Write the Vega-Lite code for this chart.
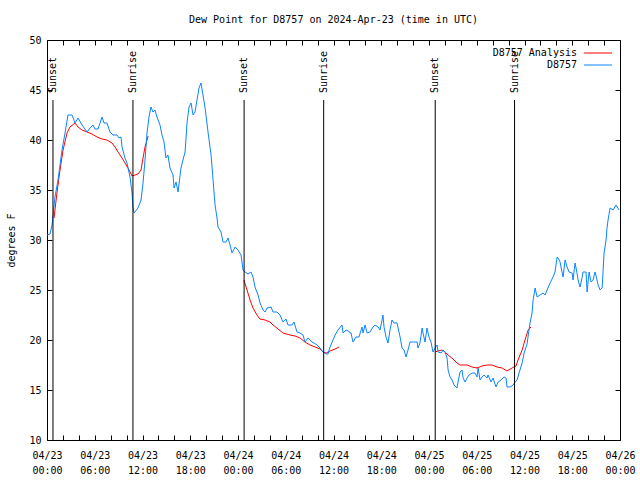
{
  "$schema": "https://vega.github.io/schema/vega-lite/v6.json",
  "autosize": {"type": "none"},
  "width": 573,
  "height": 400,
  "padding": {"left": 47, "top": 40, "right": 20, "bottom": 40},
  "background": "white",
  "title": {"text": "Dew Point for D8757 on 2024-Apr-23 (time in UTC)", "font": "DejaVu Sans Mono", "fontSize": 10, "fontWeight": "normal", "color": "black", "offset": 10},
  "config": {
    "view": {"stroke": "black", "strokeWidth": 1},
    "axis": {"domain": false, "grid": false, "labelFont": "DejaVu Sans Mono", "labelFontSize": 10, "labelColor": "black", "tickColor": "black", "tickWidth": 1, "titleFont": "DejaVu Sans Mono", "titleFontSize": 10, "titleFontWeight": "normal", "titleColor": "black"},
    "legend": {"labelFont": "DejaVu Sans Mono", "labelFontSize": 10, "labelColor": "black"}
  },
  "datasets": {
    "obs": [
      {"t":"2024-04-23T00:00:00Z","v":30.5},{"t":"2024-04-23T00:23:00Z","v":30.6},{"t":"2024-04-23T00:38:00Z","v":31.5},{"t":"2024-04-23T01:00:00Z","v":34.3},{"t":"2024-04-23T01:23:00Z","v":36},{"t":"2024-04-23T01:53:00Z","v":39},{"t":"2024-04-23T02:16:00Z","v":40.7},{"t":"2024-04-23T02:38:00Z","v":42.5},{"t":"2024-04-23T03:09:00Z","v":42.5},{"t":"2024-04-23T03:31:00Z","v":41.7},{"t":"2024-04-23T03:54:00Z","v":42.2},{"t":"2024-04-23T04:24:00Z","v":41.5},{"t":"2024-04-23T05:02:00Z","v":40.8},{"t":"2024-04-23T05:24:00Z","v":41.2},{"t":"2024-04-23T05:47:00Z","v":41.5},{"t":"2024-04-23T06:02:00Z","v":41.1},{"t":"2024-04-23T06:25:00Z","v":41.1},{"t":"2024-04-23T06:55:00Z","v":42.3},{"t":"2024-04-23T07:10:00Z","v":41.7},{"t":"2024-04-23T07:32:00Z","v":41.7},{"t":"2024-04-23T07:55:00Z","v":40.8},{"t":"2024-04-23T08:18:00Z","v":40.5},{"t":"2024-04-23T08:48:00Z","v":40.5},{"t":"2024-04-23T09:03:00Z","v":40.2},{"t":"2024-04-23T09:18:00Z","v":40.3},{"t":"2024-04-23T09:26:00Z","v":39.3},{"t":"2024-04-23T09:48:00Z","v":38.2},{"t":"2024-04-23T10:03:00Z","v":37.7},{"t":"2024-04-23T10:11:00Z","v":37.2},{"t":"2024-04-23T10:26:00Z","v":36.3},{"t":"2024-04-23T10:41:00Z","v":34.7},{"t":"2024-04-23T10:48:00Z","v":33.3},{"t":"2024-04-23T10:56:00Z","v":32.7},{"t":"2024-04-23T11:26:00Z","v":33.2},{"t":"2024-04-23T11:49:00Z","v":34},{"t":"2024-04-23T12:04:00Z","v":35.7},{"t":"2024-04-23T12:19:00Z","v":38},{"t":"2024-04-23T12:34:00Z","v":40.7},{"t":"2024-04-23T12:49:00Z","v":42.3},{"t":"2024-04-23T13:04:00Z","v":43.3},{"t":"2024-04-23T13:19:00Z","v":42.8},{"t":"2024-04-23T13:34:00Z","v":43},{"t":"2024-04-23T13:49:00Z","v":42.3},{"t":"2024-04-23T14:12:00Z","v":41.5},{"t":"2024-04-23T14:27:00Z","v":40.5},{"t":"2024-04-23T14:42:00Z","v":39.8},{"t":"2024-04-23T14:57:00Z","v":38.2},{"t":"2024-04-23T15:12:00Z","v":38.5},{"t":"2024-04-23T15:27:00Z","v":37.2},{"t":"2024-04-23T15:50:00Z","v":36.5},{"t":"2024-04-23T15:58:00Z","v":35.2},{"t":"2024-04-23T16:13:00Z","v":35.8},{"t":"2024-04-23T16:28:00Z","v":34.8},{"t":"2024-04-23T16:50:00Z","v":37.2},{"t":"2024-04-23T17:05:00Z","v":38},{"t":"2024-04-23T17:21:00Z","v":38.8},{"t":"2024-04-23T17:36:00Z","v":41.8},{"t":"2024-04-23T17:51:00Z","v":43.3},{"t":"2024-04-23T18:06:00Z","v":43.7},{"t":"2024-04-23T18:21:00Z","v":42.5},{"t":"2024-04-23T18:36:00Z","v":42.8},{"t":"2024-04-23T18:51:00Z","v":44},{"t":"2024-04-23T19:06:00Z","v":45.2},{"t":"2024-04-23T19:21:00Z","v":45.7},{"t":"2024-04-23T19:36:00Z","v":44.5},{"t":"2024-04-23T19:51:00Z","v":43.3},{"t":"2024-04-23T20:14:00Z","v":40.8},{"t":"2024-04-23T20:37:00Z","v":38.5},{"t":"2024-04-23T20:52:00Z","v":36},{"t":"2024-04-23T21:07:00Z","v":33.5},{"t":"2024-04-23T21:22:00Z","v":32.2},{"t":"2024-04-23T21:29:00Z","v":31.3},{"t":"2024-04-23T21:52:00Z","v":30.8},{"t":"2024-04-23T22:07:00Z","v":29.8},{"t":"2024-04-23T22:30:00Z","v":29.8},{"t":"2024-04-23T22:45:00Z","v":30.2},{"t":"2024-04-23T23:00:00Z","v":29.5},{"t":"2024-04-23T23:15:00Z","v":28.7},{"t":"2024-04-23T23:38:00Z","v":29.3},
      {"t":"2024-04-24T00:00:00Z","v":29},{"t":"2024-04-24T00:23:00Z","v":28.5},{"t":"2024-04-24T00:38:00Z","v":27},{"t":"2024-04-24T00:53:00Z","v":26.8},{"t":"2024-04-24T01:16:00Z","v":26.6},{"t":"2024-04-24T01:38:00Z","v":26.8},{"t":"2024-04-24T01:53:00Z","v":26.3},{"t":"2024-04-24T02:08:00Z","v":25.3},{"t":"2024-04-24T02:31:00Z","v":24.5},{"t":"2024-04-24T02:46:00Z","v":23.7},{"t":"2024-04-24T03:09:00Z","v":23},{"t":"2024-04-24T03:24:00Z","v":22.8},{"t":"2024-04-24T03:39:00Z","v":23.2},{"t":"2024-04-24T04:09:00Z","v":23.3},{"t":"2024-04-24T04:24:00Z","v":22.8},{"t":"2024-04-24T04:54:00Z","v":22.8},{"t":"2024-04-24T05:17:00Z","v":22.5},{"t":"2024-04-24T05:39:00Z","v":21.8},{"t":"2024-04-24T06:02:00Z","v":22.1},{"t":"2024-04-24T06:17:00Z","v":21.5},{"t":"2024-04-24T06:47:00Z","v":21.5},{"t":"2024-04-24T07:02:00Z","v":21.8},{"t":"2024-04-24T07:25:00Z","v":20.8},{"t":"2024-04-24T07:48:00Z","v":20.7},{"t":"2024-04-24T08:10:00Z","v":20.5},{"t":"2024-04-24T08:25:00Z","v":19.8},{"t":"2024-04-24T08:48:00Z","v":20.2},{"t":"2024-04-24T09:18:00Z","v":19.8},{"t":"2024-04-24T09:33:00Z","v":19.7},{"t":"2024-04-24T09:56:00Z","v":19.5},{"t":"2024-04-24T10:18:00Z","v":19.2},{"t":"2024-04-24T10:41:00Z","v":18.8},{"t":"2024-04-24T11:04:00Z","v":18.6},{"t":"2024-04-24T11:19:00Z","v":18.6},{"t":"2024-04-24T11:34:00Z","v":19.3},{"t":"2024-04-24T11:56:00Z","v":20},{"t":"2024-04-24T12:12:00Z","v":20.5},{"t":"2024-04-24T12:34:00Z","v":21},{"t":"2024-04-24T13:04:00Z","v":21.5},{"t":"2024-04-24T13:12:00Z","v":20.7},{"t":"2024-04-24T13:34:00Z","v":21},{"t":"2024-04-24T13:50:00Z","v":20.9},{"t":"2024-04-24T14:12:00Z","v":20.7},{"t":"2024-04-24T14:27:00Z","v":19.8},{"t":"2024-04-24T14:50:00Z","v":20.3},{"t":"2024-04-24T15:12:00Z","v":20.3},{"t":"2024-04-24T15:35:00Z","v":21.3},{"t":"2024-04-24T15:43:00Z","v":20.7},{"t":"2024-04-24T15:58:00Z","v":21.5},{"t":"2024-04-24T16:13:00Z","v":20.7},{"t":"2024-04-24T16:35:00Z","v":20.8},{"t":"2024-04-24T16:58:00Z","v":21.3},{"t":"2024-04-24T17:13:00Z","v":21.5},{"t":"2024-04-24T17:36:00Z","v":21.3},{"t":"2024-04-24T17:51:00Z","v":21},{"t":"2024-04-24T18:06:00Z","v":22},{"t":"2024-04-24T18:13:00Z","v":22.5},{"t":"2024-04-24T18:21:00Z","v":21.3},{"t":"2024-04-24T18:36:00Z","v":20.3},{"t":"2024-04-24T18:51:00Z","v":19.7},{"t":"2024-04-24T19:06:00Z","v":21},{"t":"2024-04-24T19:21:00Z","v":22},{"t":"2024-04-24T19:36:00Z","v":21.7},{"t":"2024-04-24T19:59:00Z","v":21.7},{"t":"2024-04-24T20:22:00Z","v":20.3},{"t":"2024-04-24T20:37:00Z","v":19.2},{"t":"2024-04-24T20:52:00Z","v":19},{"t":"2024-04-24T21:07:00Z","v":18.3},{"t":"2024-04-24T21:22:00Z","v":19},{"t":"2024-04-24T21:37:00Z","v":19.8},{"t":"2024-04-24T22:00:00Z","v":19.8},{"t":"2024-04-24T22:30:00Z","v":19.8},{"t":"2024-04-24T22:37:00Z","v":19.2},{"t":"2024-04-24T22:52:00Z","v":19.7},{"t":"2024-04-24T23:08:00Z","v":21.2},{"t":"2024-04-24T23:15:00Z","v":20.7},{"t":"2024-04-24T23:30:00Z","v":19.8},{"t":"2024-04-24T23:45:00Z","v":21.2},
      {"t":"2024-04-25T00:00:00Z","v":20.3},{"t":"2024-04-25T00:15:00Z","v":19.8},{"t":"2024-04-25T00:30:00Z","v":18.8},{"t":"2024-04-25T00:46:00Z","v":19.2},{"t":"2024-04-25T01:01:00Z","v":19.5},{"t":"2024-04-25T01:08:00Z","v":18.8},{"t":"2024-04-25T01:31:00Z","v":18.7},{"t":"2024-04-25T01:46:00Z","v":19},{"t":"2024-04-25T02:01:00Z","v":18.8},{"t":"2024-04-25T02:16:00Z","v":18.2},{"t":"2024-04-25T02:24:00Z","v":17},{"t":"2024-04-25T02:39:00Z","v":16.3},{"t":"2024-04-25T02:54:00Z","v":16},{"t":"2024-04-25T03:09:00Z","v":15.5},{"t":"2024-04-25T03:31:00Z","v":15.2},{"t":"2024-04-25T03:39:00Z","v":15.8},{"t":"2024-04-25T03:54:00Z","v":16.8},{"t":"2024-04-25T04:09:00Z","v":17},{"t":"2024-04-25T04:17:00Z","v":16.2},{"t":"2024-04-25T04:32:00Z","v":15.8},{"t":"2024-04-25T04:47:00Z","v":16.2},{"t":"2024-04-25T05:02:00Z","v":16.5},{"t":"2024-04-25T05:25:00Z","v":16.7},{"t":"2024-04-25T05:47:00Z","v":16.7},{"t":"2024-04-25T06:02:00Z","v":16.3},{"t":"2024-04-25T06:10:00Z","v":17.2},{"t":"2024-04-25T06:25:00Z","v":16},{"t":"2024-04-25T06:40:00Z","v":16.3},{"t":"2024-04-25T06:55:00Z","v":16.5},{"t":"2024-04-25T07:18:00Z","v":16.2},{"t":"2024-04-25T07:25:00Z","v":16.5},{"t":"2024-04-25T07:48:00Z","v":15.8},{"t":"2024-04-25T08:03:00Z","v":16.2},{"t":"2024-04-25T08:25:00Z","v":15.3},{"t":"2024-04-25T08:41:00Z","v":15.8},{"t":"2024-04-25T09:03:00Z","v":16},{"t":"2024-04-25T09:18:00Z","v":16.2},{"t":"2024-04-25T09:26:00Z","v":16.3},{"t":"2024-04-25T09:41:00Z","v":16.2},{"t":"2024-04-25T09:48:00Z","v":15.3},{"t":"2024-04-25T10:11:00Z","v":15.3},{"t":"2024-04-25T10:34:00Z","v":15.5},{"t":"2024-04-25T10:49:00Z","v":15.8},{"t":"2024-04-25T11:04:00Z","v":16},{"t":"2024-04-25T11:19:00Z","v":16.7},{"t":"2024-04-25T11:42:00Z","v":17.7},{"t":"2024-04-25T11:57:00Z","v":18.7},{"t":"2024-04-25T12:19:00Z","v":19.6},{"t":"2024-04-25T12:34:00Z","v":21},{"t":"2024-04-25T12:42:00Z","v":21.7},{"t":"2024-04-25T12:57:00Z","v":22.7},{"t":"2024-04-25T13:05:00Z","v":24},{"t":"2024-04-25T13:20:00Z","v":25.2},{"t":"2024-04-25T13:35:00Z","v":24.3},{"t":"2024-04-25T13:57:00Z","v":24.5},{"t":"2024-04-25T14:20:00Z","v":24.7},{"t":"2024-04-25T14:35:00Z","v":24.5},{"t":"2024-04-25T14:50:00Z","v":25},{"t":"2024-04-25T15:13:00Z","v":25.7},{"t":"2024-04-25T15:35:00Z","v":26.3},{"t":"2024-04-25T15:50:00Z","v":26.8},{"t":"2024-04-25T16:06:00Z","v":28.3},{"t":"2024-04-25T16:13:00Z","v":28.2},{"t":"2024-04-25T16:28:00Z","v":27.8},{"t":"2024-04-25T16:43:00Z","v":26.8},{"t":"2024-04-25T16:51:00Z","v":26.3},{"t":"2024-04-25T17:06:00Z","v":28},{"t":"2024-04-25T17:21:00Z","v":27.3},{"t":"2024-04-25T17:36:00Z","v":26.8},{"t":"2024-04-25T17:59:00Z","v":26.7},{"t":"2024-04-25T18:06:00Z","v":26},{"t":"2024-04-25T18:21:00Z","v":27.7},{"t":"2024-04-25T18:36:00Z","v":26.7},{"t":"2024-04-25T18:44:00Z","v":26},{"t":"2024-04-25T18:59:00Z","v":25.3},{"t":"2024-04-25T19:14:00Z","v":26.2},{"t":"2024-04-25T19:21:00Z","v":26.8},{"t":"2024-04-25T19:44:00Z","v":26.8},{"t":"2024-04-25T19:52:00Z","v":24.8},{"t":"2024-04-25T20:07:00Z","v":26.8},{"t":"2024-04-25T20:22:00Z","v":25.8},{"t":"2024-04-25T20:37:00Z","v":26},{"t":"2024-04-25T20:52:00Z","v":26.8},{"t":"2024-04-25T21:07:00Z","v":26},{"t":"2024-04-25T21:15:00Z","v":25.5},{"t":"2024-04-25T21:30:00Z","v":25},{"t":"2024-04-25T21:45:00Z","v":25.2},{"t":"2024-04-25T21:52:00Z","v":26.8},{"t":"2024-04-25T22:00:00Z","v":28.7},{"t":"2024-04-25T22:15:00Z","v":30},{"t":"2024-04-25T22:22:00Z","v":31.2},{"t":"2024-04-25T22:30:00Z","v":32},{"t":"2024-04-25T22:45:00Z","v":33.2},{"t":"2024-04-25T23:08:00Z","v":33},{"t":"2024-04-25T23:30:00Z","v":33.5},{"t":"2024-04-25T23:53:00Z","v":33}
    ],
    "ana": [
      {"t":"2024-04-23T00:53:00Z","v":32.2,"g":1},{"t":"2024-04-23T01:15:00Z","v":34.7,"g":1},{"t":"2024-04-23T01:38:00Z","v":37,"g":1},{"t":"2024-04-23T02:01:00Z","v":39,"g":1},{"t":"2024-04-23T02:31:00Z","v":40.7,"g":1},{"t":"2024-04-23T02:53:00Z","v":41.3,"g":1},{"t":"2024-04-23T03:31:00Z","v":41.7,"g":1},{"t":"2024-04-23T03:54:00Z","v":41.3,"g":1},{"t":"2024-04-23T04:24:00Z","v":41,"g":1},{"t":"2024-04-23T05:02:00Z","v":40.8,"g":1},{"t":"2024-04-23T05:39:00Z","v":40.6,"g":1},{"t":"2024-04-23T06:17:00Z","v":40.3,"g":1},{"t":"2024-04-23T06:55:00Z","v":40.1,"g":1},{"t":"2024-04-23T07:32:00Z","v":40,"g":1},{"t":"2024-04-23T08:10:00Z","v":39.7,"g":1},{"t":"2024-04-23T08:33:00Z","v":39.3,"g":1},{"t":"2024-04-23T08:55:00Z","v":38.8,"g":1},{"t":"2024-04-23T09:26:00Z","v":38.2,"g":1},{"t":"2024-04-23T09:48:00Z","v":37.7,"g":1},{"t":"2024-04-23T10:11:00Z","v":37.2,"g":1},{"t":"2024-04-23T10:41:00Z","v":36.4,"g":1},{"t":"2024-04-23T11:04:00Z","v":36.5,"g":1},{"t":"2024-04-23T11:26:00Z","v":36.6,"g":1},{"t":"2024-04-23T11:49:00Z","v":37,"g":1},{"t":"2024-04-23T12:04:00Z","v":38.2,"g":1},{"t":"2024-04-23T12:19:00Z","v":39.3,"g":1},{"t":"2024-04-23T12:34:00Z","v":40,"g":1},{"t":"2024-04-23T12:42:00Z","v":40.4,"g":1},
      {"t":"2024-04-24T00:45:00Z","v":26,"g":2},{"t":"2024-04-24T01:08:00Z","v":25,"g":2},{"t":"2024-04-24T01:31:00Z","v":24,"g":2},{"t":"2024-04-24T01:53:00Z","v":23.2,"g":2},{"t":"2024-04-24T02:23:00Z","v":22.5,"g":2},{"t":"2024-04-24T02:46:00Z","v":22.1,"g":2},{"t":"2024-04-24T03:24:00Z","v":22,"g":2},{"t":"2024-04-24T04:01:00Z","v":21.8,"g":2},{"t":"2024-04-24T04:24:00Z","v":21.5,"g":2},{"t":"2024-04-24T05:02:00Z","v":21.1,"g":2},{"t":"2024-04-24T05:39:00Z","v":20.7,"g":2},{"t":"2024-04-24T06:32:00Z","v":20.5,"g":2},{"t":"2024-04-24T07:10:00Z","v":20.4,"g":2},{"t":"2024-04-24T07:48:00Z","v":20.2,"g":2},{"t":"2024-04-24T08:25:00Z","v":19.8,"g":2},{"t":"2024-04-24T09:03:00Z","v":19.5,"g":2},{"t":"2024-04-24T09:41:00Z","v":19.3,"g":2},{"t":"2024-04-24T10:18:00Z","v":19.1,"g":2},{"t":"2024-04-24T10:41:00Z","v":18.8,"g":2},{"t":"2024-04-24T11:04:00Z","v":18.7,"g":2},{"t":"2024-04-24T11:34:00Z","v":18.9,"g":2},{"t":"2024-04-24T12:12:00Z","v":19.1,"g":2},{"t":"2024-04-24T12:42:00Z","v":19.3,"g":2},
      {"t":"2024-04-25T00:46:00Z","v":18.8,"g":3},{"t":"2024-04-25T01:08:00Z","v":18.9,"g":3},{"t":"2024-04-25T01:38:00Z","v":19,"g":3},{"t":"2024-04-25T02:01:00Z","v":18.8,"g":3},{"t":"2024-04-25T02:24:00Z","v":18.5,"g":3},{"t":"2024-04-25T03:01:00Z","v":18.1,"g":3},{"t":"2024-04-25T03:31:00Z","v":17.7,"g":3},{"t":"2024-04-25T03:54:00Z","v":17.5,"g":3},{"t":"2024-04-25T04:47:00Z","v":17.5,"g":3},{"t":"2024-04-25T05:25:00Z","v":17.3,"g":3},{"t":"2024-04-25T06:02:00Z","v":17.2,"g":3},{"t":"2024-04-25T06:40:00Z","v":17.4,"g":3},{"t":"2024-04-25T07:18:00Z","v":17.5,"g":3},{"t":"2024-04-25T07:55:00Z","v":17.5,"g":3},{"t":"2024-04-25T08:33:00Z","v":17.3,"g":3},{"t":"2024-04-25T09:11:00Z","v":17.2,"g":3},{"t":"2024-04-25T09:48:00Z","v":16.9,"g":3},{"t":"2024-04-25T10:26:00Z","v":17.2,"g":3},{"t":"2024-04-25T10:56:00Z","v":17.4,"g":3},{"t":"2024-04-25T11:11:00Z","v":18,"g":3},{"t":"2024-04-25T11:42:00Z","v":19,"g":3},{"t":"2024-04-25T12:04:00Z","v":20,"g":3},{"t":"2024-04-25T12:27:00Z","v":21,"g":3},{"t":"2024-04-25T12:49:00Z","v":21.3,"g":3}
    ],
    "sun": [
      {"t":"2024-04-23T00:45:00Z","label":"Sunset"},
      {"t":"2024-04-23T10:48:00Z","label":"Sunrise"},
      {"t":"2024-04-24T00:46:00Z","label":"Sunset"},
      {"t":"2024-04-24T10:46:00Z","label":"Sunrise"},
      {"t":"2024-04-25T00:47:00Z","label":"Sunset"},
      {"t":"2024-04-25T10:45:00Z","label":"Sunrise"}
    ]
  },
  "layer": [
    {
      "data": {"name": "ana"},
      "transform": [{"calculate": "'D8757 Analysis'", "as": "s"}],
      "mark": {"type": "line", "strokeWidth": 1},
      "encoding": {
        "x": {"field": "t", "type": "temporal",
              "scale": {"type": "utc", "domain": ["2024-04-23T00:00:00Z", "2024-04-26T00:00:00Z"]},
              "axis": {"orient": "bottom", "offset": -5, "tickSize": 5, "labelPadding": 10, "labelOverlap": false, "labelFlush": false, "labelLineHeight": 15,
                       "values": [1713830400000, 1713837600000, 1713844800000, 1713852000000, 1713859200000, 1713866400000, 1713873600000, 1713880800000, 1713888000000, 1713895200000, 1713902400000, 1713909600000, 1713916800000, 1713924000000, 1713931200000, 1713938400000, 1713945600000, 1713952800000, 1713960000000, 1713967200000, 1713974400000, 1713981600000, 1713988800000, 1713996000000, 1714003200000, 1714010400000, 1714017600000, 1714024800000, 1714032000000, 1714039200000, 1714046400000, 1714053600000, 1714060800000, 1714068000000, 1714075200000, 1714082400000, 1714089600000],
                       "labelExpr": "utchours(datum.value) % 6 == 0 ? [utcFormat(datum.value, '%m/%d'), utcFormat(datum.value, '%H:%M')] : ''", "title": null}},
        "y": {"field": "v", "type": "quantitative", "scale": {"domain": [10, 50], "nice": false, "zero": false},
              "axis": {"orient": "left", "offset": -5, "values": [10, 15, 20, 25, 30, 35, 40, 45, 50], "tickSize": 5, "labelPadding": 6, "title": "degrees F", "titlePadding": 12}},
        "detail": {"field": "g"},
        "color": {"field": "s", "type": "nominal", "scale": {"domain": ["D8757 Analysis", "D8757"], "range": ["#ff0000", "#0a84ff"]},
                  "legend": {"orient": "top-right", "offset": 6, "title": null, "padding": 0, "symbolType": "M-2.15,0H2.15", "symbolSize": 169, "symbolStrokeWidth": 1, "labelAlign": "right", "labelOffset": -28, "rowPadding": 0}}
      }
    },
    {
      "data": {"name": "obs"},
      "transform": [{"calculate": "'D8757'", "as": "s"}],
      "mark": {"type": "line", "strokeWidth": 1},
      "encoding": {
        "x": {"field": "t", "type": "temporal", "axis": null},
        "y": {"field": "v", "type": "quantitative", "axis": null},
        "color": {"field": "s", "type": "nominal"}
      }
    },
    {
      "data": {"name": "sun"},
      "mark": {"type": "rule", "color": "black", "strokeWidth": 1},
      "encoding": {
        "x": {"field": "t", "type": "temporal",
              "axis": {"orient": "top", "offset": -5, "tickSize": 5, "labels": false, "title": null,
                       "values": [1713830400000, 1713837600000, 1713844800000, 1713852000000, 1713859200000, 1713866400000, 1713873600000, 1713880800000, 1713888000000, 1713895200000, 1713902400000, 1713909600000, 1713916800000, 1713924000000, 1713931200000, 1713938400000, 1713945600000, 1713952800000, 1713960000000, 1713967200000, 1713974400000, 1713981600000, 1713988800000, 1713996000000, 1714003200000, 1714010400000, 1714017600000, 1714024800000, 1714032000000, 1714039200000, 1714046400000, 1714053600000, 1714060800000, 1714068000000, 1714075200000, 1714082400000, 1714089600000]}},
        "y": {"datum": 44, "type": "quantitative",
              "axis": {"orient": "right", "offset": -5, "tickSize": 5, "labels": false, "title": null, "values": [10, 15, 20, 25, 30, 35, 40, 45, 50]}},
        "y2": {"datum": 10}
      }
    },
    {
      "data": {"name": "sun"},
      "mark": {"type": "text", "angle": 270, "align": "left", "baseline": "middle", "font": "DejaVu Sans Mono", "fontSize": 10, "color": "black"},
      "encoding": {
        "x": {"field": "t", "type": "temporal", "axis": null},
        "y": {"datum": 44.7, "type": "quantitative", "axis": null},
        "text": {"field": "label"}
      }
    }
  ]
}
